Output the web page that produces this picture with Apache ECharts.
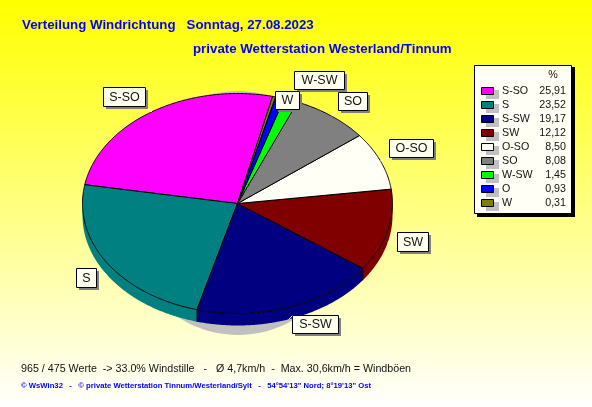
<!DOCTYPE html>
<html><head><meta charset="utf-8">
<style>html,body{margin:0;padding:0;background:#fff}#c{width:592px;height:407px}</style>
<script src="https://cdn.jsdelivr.net/npm/echarts@6/dist/echarts.min.js"></script></head>
<body><div id="c"></div>
<script>
const categories = ['S-SO','S','S-SW','SW','O-SO','SO','W-SW','O','W'];
const shares = [25.91,23.52,19.17,12.12,8.50,8.08,1.45,0.93,0.31];
const shareLabels = ['25,91','23,52','19,17','12,12','8,50','8,08','1,45','0,93','0,31'];
const colors = ['#ff00ff','#008080','#000080','#800000','#fffff5','#808080','#00ff00','#0000ff','#808000'];
const titleLine1 = 'Verteilung Windrichtung   Sonntag, 27.08.2023';
const titleLine2 = 'private Wetterstation Westerland/Tinnum';
const footerLine1 = '965 / 475 Werte  -> 33.0% Windstille   -   Ø 4,7km/h  -  Max. 30,6km/h = Windböen';
const footerLine2 = '© WsWin32   -   © private Wetterstation Tinnum/Westerland/Sylt   -   54°54\'13" Nord; 8°19\'13" Ost';

// layout
const P = {cx:237.5, cy:203.5, rx:155, ry:110, depth:12, start:13.1};
const boxes = {
 'S-SO':{x:103,y:87,w:42,h:19,ax:147,ay:108},
 'S':{x:76,y:268,w:20,h:19,ax:98,ay:268},
 'S-SW':{x:292,y:315,w:46,h:18,ax:293,ay:315},
 'SW':{x:397,y:232,w:31,h:19,ax:397,ay:233},
 'O-SO':{x:389,y:139,w:44,h:18,ax:390,ay:157},
 'SO':{x:338,y:92,w:29,h:18,ax:338,ay:110},
 'W-SW':{x:294,y:71,w:50,h:18},
 'W':{x:275,y:91,w:24,h:18}
};
const total = shares.reduce((a,b)=>a+b,0);
const startAngles = []; let acc = P.start;
shares.forEach(v=>{startAngles.push(acc); acc -= v/total*360;});
const pt = (deg,dy=0)=>{const t=deg*Math.PI/180; return [P.cx+P.rx*Math.sin(t), P.cy-P.ry*Math.cos(t)+dy];};
function arc(a0,a1,dy){const n=Math.max(2,Math.ceil(Math.abs(a1-a0))*2),o=[];for(let i=0;i<=n;i++)o.push(pt(a0+(a1-a0)*i/n,dy));return o;}
function wallParts(a0,a1){ // visible (front) part: cos(theta)<0, i.e. theta in [-270,-90]
 const hi=Math.min(a0,-90), lo=Math.max(a1,-270);
 return hi>lo?[hi,lo]:null;
}
function renderSlice(params,api){
 const i=params.dataIndex, a0=startAngles[i], a1=a0-api.value(0)/total*360, kids=[];
 const line={stroke:'#000',lineWidth:1};
 if(i===0) kids.push({type:'ellipse',z2:-5,shape:{cx:P.cx+.5,cy:213,rx:115,ry:122},style:{fill:'#c0c0c0'}});
 const w=wallParts(a0,a1);
 if(w){const top=arc(w[0],w[1],0),bot=arc(w[1],w[0],P.depth);
  kids.push({type:'polygon',z2:1,shape:{points:top.concat(bot)},style:{fill:colors[i]}});
  if(a0<-90&&a0>-270){const p=pt(a0);kids.push({type:'line',z2:1,shape:{x1:p[0],y1:p[1],x2:p[0],y2:p[1]+P.depth},style:line});}
 }
 kids.push({type:'polygon',z2:2,shape:{points:[[P.cx,P.cy]].concat(arc(a0,a1,0))},style:Object.assign({fill:colors[i]},line)});
 return {type:'group',children:kids};
}
function renderLabel(params,api){
 const name=categories[params.dataIndex], b=boxes[name];
 if(!b) return {type:'group',children:[]};
 const a0=startAngles[params.dataIndex], mid=a0-api.value(0)/total*180, kids=[];
 const order=name==='W'?30:name==='W-SW'?10:20;
 if(b.ax!==undefined){
  const front=Math.cos(mid*Math.PI/180)<0, p=pt(mid,front?P.depth:0);
  kids.push({type:'line',z2:order-1,shape:{x1:p[0],y1:p[1],x2:b.ax,y2:b.ay},style:{stroke:'#fff',lineWidth:1}});
 }
 kids.push({type:'rect',z2:order,shape:{x:b.x+3,y:b.y+3,width:b.w,height:b.h},style:{fill:'#808080'}});
 kids.push({type:'rect',z2:order+1,shape:{x:b.x+.5,y:b.y+.5,width:b.w,height:b.h},style:{fill:'#fffff0',stroke:'#000',lineWidth:1}});
 kids.push({type:'text',z2:order+2,x:b.x+b.w/2+.5,y:b.y+b.h/2+1,style:{text:name,fill:'#111',font:'12.5px "Liberation Sans"',align:'center',verticalAlign:'middle'}});
 return {type:'group',children:kids};
}
const T=(text,x,y,font,fill,align)=>({type:'text',z:10,x,y,style:{text,font,fill,align:align||'left',verticalAlign:'middle'}});
const graphics=[
 T(titleLine1,22,25,'bold 13.3px "Liberation Sans"','#0000ff'),
 T(titleLine2,193,49,'bold 13.3px "Liberation Sans"','#0000ff'),
 T(footerLine1,21,369,'10.7px "Liberation Sans"','#111'),
 T(footerLine2,21,386,'bold 7.7px "Liberation Sans"','#0000ff'),
 {type:'rect',z:10,shape:{x:477,y:67,width:98,height:150},style:{fill:'#000'}},
 {type:'rect',z:11,shape:{x:474.5,y:65.5,width:97,height:148},style:{fill:'#fffff5',stroke:'#000',lineWidth:1}},
 Object.assign(T('%',553,75,'10.7px "Liberation Sans"','#111','center'),{z:12})
];
categories.forEach((c,i)=>{
 const y=91+14*i;
 graphics.push({type:'rect',z:12,shape:{x:486,y:y-1,width:13,height:9},style:{fill:'#c0c0c0'}});
 graphics.push({type:'rect',z:13,shape:{x:481.5,y:y-3.5,width:12,height:7},style:{fill:colors[i],stroke:'#000',lineWidth:1}});
 graphics.push(Object.assign(T(c,502,y,'10.7px "Liberation Sans"','#111'),{z:13}));
 graphics.push(Object.assign(T(shareLabels[i],566,y,'10.7px "Liberation Sans"','#111','right'),{z:13}));
});
const chart=echarts.init(document.getElementById('c'),null,{renderer:'canvas'});
chart.setOption({
 animation:false,
 backgroundColor:new echarts.graphic.LinearGradient(0,0,0,1,[{offset:0,color:'#ffff00'},{offset:1,color:'#ffffff'}]),
 graphic:graphics,
 series:[
  {type:'custom',coordinateSystem:'none',z:2,silent:true,renderItem:renderSlice,data:shares.map((v,i)=>({name:categories[i],value:[v]}))},
  {type:'custom',coordinateSystem:'none',z:3,silent:true,renderItem:renderLabel,data:shares.map((v,i)=>({name:categories[i],value:[v]}))}
 ]
});
</script></body></html>
